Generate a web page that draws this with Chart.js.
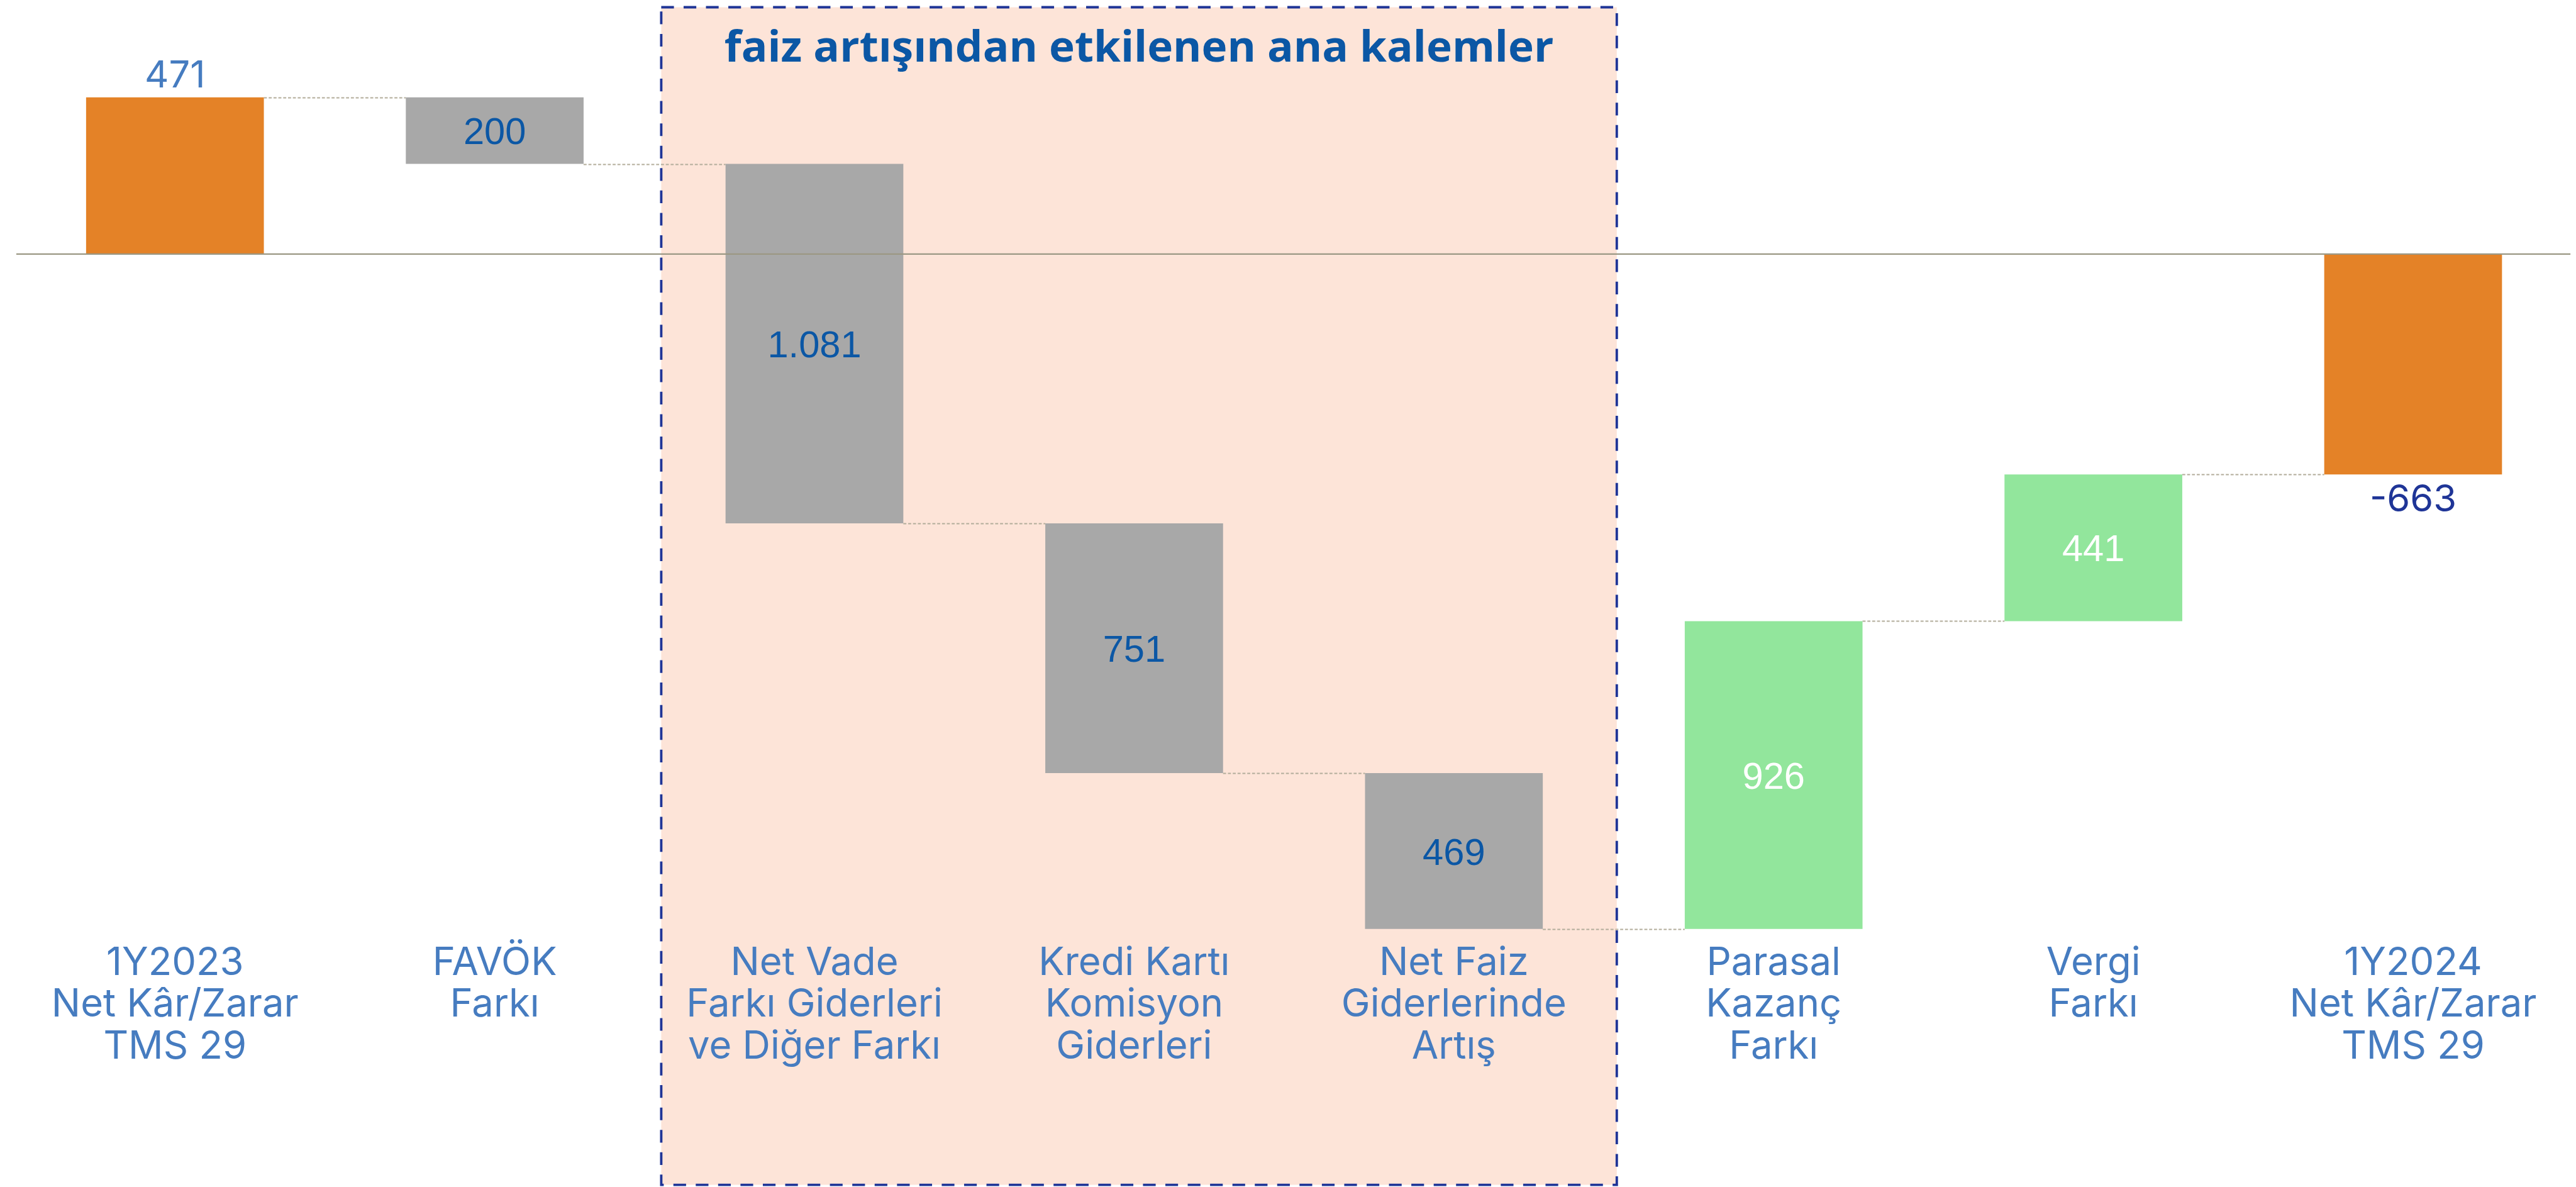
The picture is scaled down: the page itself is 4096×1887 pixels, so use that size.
<!DOCTYPE html>
<html>
<head>
<meta charset="utf-8">
<script src="https://cdn.jsdelivr.net/npm/chart.js@4.4.1/dist/chart.umd.min.js"></script>
<style>
html, body { margin: 0; padding: 0; background: #ffffff; }
canvas { display: block; }
</style>
</head>
<body>
<canvas id="waterfall" width="4096" height="1887"></canvas>
<script>
// reference measured at 4261x1963, drawn here at 0.961
var S = 0.961;

var categories = [
	['1Y2023', 'Net Kâr/Zarar', 'TMS 29'],
	['FAVÖK', 'Farkı'],
	['Net Vade', 'Farkı Giderleri', 've Diğer Farkı'],
	['Kredi Kartı', 'Komisyon', 'Giderleri'],
	['Net Faiz', 'Giderlerinde', 'Artış'],
	['Parasal', 'Kazanç', 'Farkı'],
	['Vergi', 'Farkı'],
	['1Y2024', 'Net Kâr/Zarar', 'TMS 29']
];
// first and last are totals, the rest are changes
var steps = [471, -200, -1081, -751, -469, 926, 441, -663];
var stepLabels = ['471', '200', '1.081', '751', '469', '926', '441', '-663'];
var isTotal = [true, false, false, false, false, false, false, true];
var yMin = -2046, yMax = 764;
var titleText = 'faiz artışından etkilenen ana kalemler';

// floating bars [start, end]
var ranges = [];
var running = 0;
for (var i = 0; i < steps.length; i++) {
	if (isTotal[i]) {
		ranges.push([0, steps[i]]);
		running = steps[i];
	} else {
		ranges.push([running, running + steps[i]]);
		running += steps[i];
	}
}

var barColors = steps.map(function (v, i) {
	if (isTotal[i]) return '#e48227';
	return v < 0 ? '#a8a8a8' : '#92e69c';
});

var labelColors = steps.map(function (v, i) {
	if (i == 0) return '#467cc0';
	if (isTotal[i]) return '#1f3597';
	return v < 0 ? '#0b57a5' : '#ffffff';
});

function boxEdges(x) {
	return {
		left: x.getPixelForValue(2) - 253.5 * S,
		right: x.getPixelForValue(4) + 269.5 * S,
		top: 12 * S,
		bottom: 1960 * S
	};
}

var annotations = {
	id: 'annotations',
	beforeDraw: function (chart) {
		var ctx = chart.ctx;
		var x = chart.scales.x, y = chart.scales.y;
		var bars = chart.getDatasetMeta(0).data;
		var box = boxEdges(x);
		ctx.save();

		// highlighted box round the interest items (under the axis labels)
		ctx.fillStyle = '#fde4d8';
		ctx.fillRect(box.left, box.top, box.right - box.left, box.bottom - box.top);
		ctx.strokeStyle = '#1f3597';
		ctx.lineWidth = 4 * S;
		ctx.setLineDash([21 * S, 16 * S]);
		ctx.strokeRect(box.left, box.top, box.right - box.left, box.bottom - box.top);

		// dotted connectors between bars
		ctx.strokeStyle = '#b3ad9b';
		ctx.lineWidth = 2 * S;
		ctx.setLineDash([5 * S, 3 * S]);
		for (var i = 0; i < bars.length - 1; i++) {
			var yy = Math.round(y.getPixelForValue(ranges[i][1])) + 0.5;
			ctx.beginPath();
			ctx.moveTo(bars[i].x + bars[i].width / 2, yy);
			ctx.lineTo(bars[i + 1].x - bars[i + 1].width / 2, yy);
			ctx.stroke();
		}
		ctx.restore();
	},
	afterDatasetsDraw: function (chart) {
		var ctx = chart.ctx;
		var x = chart.scales.x, y = chart.scales.y;
		var bars = chart.getDatasetMeta(0).data;
		var box = boxEdges(x);
		ctx.save();

		// zero line
		var y0 = y.getPixelForValue(0);
		ctx.strokeStyle = '#9b9884';
		ctx.lineWidth = 2.5 * S;
		ctx.beginPath();
		ctx.moveTo(27 * S, y0);
		ctx.lineTo(4253 * S, y0);
		ctx.stroke();

		// value labels
		ctx.textAlign = 'center';
		ctx.textBaseline = 'alphabetic';
		for (var i = 0; i < bars.length; i++) {
			var b = bars[i];
			var topPx = Math.min(b.y, b.base), botPx = Math.max(b.y, b.base);
			ctx.fillStyle = labelColors[i];
			if (isTotal[i]) {
				ctx.font = (62 * S) + 'px Inter';
				if (steps[i] >= 0) {
					ctx.fillText(stepLabels[i], b.x, topPx - 17 * S);
				} else {
					ctx.fillText(stepLabels[i], b.x, botPx + 16 * S + 45 * S);
				}
			} else {
				ctx.font = (62 * S) + 'px "Liberation Sans", Arial';
				ctx.fillText(stepLabels[i], b.x, (topPx + botPx) / 2 + 22.5 * S);
			}
		}

		// title inside the box, fitted to the reference width
		var cx = (box.left + box.right) / 2;
		ctx.font = 'bold ' + (70 * S) + 'px "Open Sans"';
		ctx.fillStyle = '#0b57a5';
		var w = ctx.measureText(titleText).width;
		var target = 1372 * S;
		ctx.translate(cx, 102 * S);
		ctx.scale(target / w, 1);
		ctx.fillText(titleText, 0, 0);
		ctx.restore();
	}
};

var ctx = document.getElementById('waterfall').getContext('2d');

var waterfallChart = new Chart(ctx, {
	type: 'bar',
	data: {
		labels: categories,
		datasets: [{
			data: ranges,
			backgroundColor: barColors,
			borderWidth: 0,
			borderSkipped: false,
			categoryPercentage: 1,
			barPercentage: 0.556
		}]
	},
	options: {
		responsive: false,
		animation: false,
		devicePixelRatio: 1,
		layout: {
			padding: { top: 0, left: 25 * S, right: 5 * S, bottom: 0 }
		},
		plugins: {
			legend: { display: false },
			tooltip: { enabled: false }
		},
		scales: {
			x: {
				grid: { display: false, drawTicks: false, tickLength: 0 },
				border: { display: false },
				afterFit: function (scale) {
					scale.height = 418 * S;
				},
				ticks: {
					autoSkip: false,
					maxRotation: 0,
					minRotation: 0,
					padding: 13 * S,
					color: '#467cc0',
					font: { family: 'Inter', size: 64 * S, lineHeight: 1.083 }
				}
			},
			y: {
				display: false,
				min: yMin,
				max: yMax
			}
		}
	},
	plugins: [annotations]
});
</script>
</body>
</html>
